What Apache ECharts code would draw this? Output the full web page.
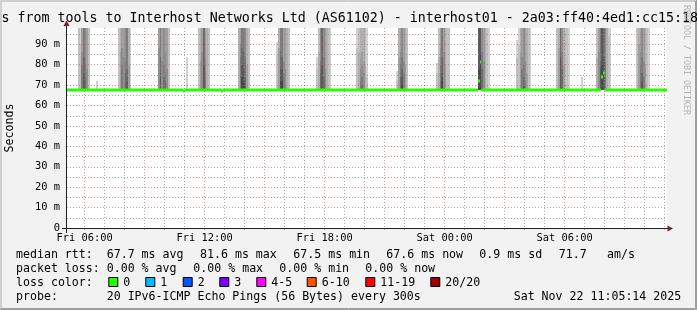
<!DOCTYPE html>
<html><head><meta charset="utf-8">
<script src="https://cdn.jsdelivr.net/npm/echarts@6/dist/echarts.min.js"></script>
<style>html,body{margin:0;padding:0;background:#f2f2f2}#c{width:697px;height:310px}</style>
</head><body><div id="c"></div>
<script>
// ---- data (x values: minutes since Fri 00:00) ----
const xStart = 307.2, xEnd = 2107.2;
const yMin = 0, yMax = 98;
const majorGridMinutes = [360,540,720,900,1080,1260,1440,1620,1800,1980];
const minorGridMinutes = [420,480,600,660,780,840,960,1020,1140,1200,1320,1380,1500,1560,1680,1740,1860,1920,2040,2100];
const xLabelMinutes = [360,720,1080,1440,1800];
const xLabelTexts = ['Fri 06:00','Fri 12:00','Fri 18:00','Sat 00:00','Sat 06:00'];
const yMajorTicks = [0,10,20,30,40,50,60,70,80,90];
const yMinorTicks = [5,15,25,35,45,55,65,75,85,95];
const yTickLabels = ['0','10 m','20 m','30 m','40 m','50 m','60 m','70 m','80 m','90 m'];

// median RTT (ms) per 5-minute step, as runs: [first step, last step, value]
const medianRuns = [
  [305,650,67.7],[655,655,67.2],[660,765,67.7],[770,770,67.2],[775,1535,67.7],
  [1540,1540,72.1],[1545,1545,81.5],[1550,1905,67.7],[1910,1910,73.8],[1915,1915,76.0],[1920,2105,67.7]
];
const smokeBase = 67.4;   // fastest ping (ms)
// smoke per 5-minute step: [step, pings above chart top, visible slower pings (ms)...]
const smokeColumns = [
  [340,2],[345,1,90],[350,4,86,80],[355,6,84,76],[360,5,80,72],[365,4,78],[370,2],
  [395,0,72],
  [460,2],[465,3,86],[470,4,88,80],[475,4,84],[480,5,82,76],[485,6,78,72],[490,3,80],[495,1],
  [580,4,88],[585,6,84,76],[590,4,82],[595,5,80,74],[600,4,86,76,72],[605,4,78],[610,2],
  [665,0,83.6],
  [700,2],[705,3,82],[710,4,86],[715,7,80],[720,4,84,76],[725,3],[730,2],
  [820,3],[825,4,90,84],[830,6,88,80,74],[835,6,86,78,72],[840,5,84,74],[845,3,80],[850,2],
  [935,0,91,85],[940,3,88],[945,6,86,78,72],[950,6,84,78,72],[955,4,82,76],[960,4,78],[965,3],[970,2],
  [1055,0,84,78],[1060,2,86],[1065,5,82,76],[1070,7,80],[1075,5,84,74],[1080,4,78],[1085,3],[1090,2],[1095,1],
  [1175,1,88],[1180,2,86],[1185,3,84,78,72],[1190,3,86,80,74,70],[1195,3,82,76],[1200,2,80],[1205,1,74],
  [1295,0,77,72],[1300,3,84],[1305,4,86,80,74],[1310,5,84,78,74,70],[1315,4,82,76],[1320,3,80],[1325,2],
  [1415,0,81,76],[1420,2,84],[1425,4,88,80],[1430,6,84,76,72],[1435,4,86],[1440,3,80],[1445,2],[1450,2],
  [1540,8,78],[1545,8,85],[1550,5,86,78],[1555,4,82],[1560,3],[1565,2],[1570,1],
  [1655,0,92,84],[1660,1,90],[1665,3,86],[1670,4,84,78],[1675,5,80,74,70],[1680,4,82,72],[1685,3,76],[1690,2],[1695,1],
  [1775,2],[1780,3,88],[1785,7,84],[1790,5,86,78],[1795,3,80],[1800,2],[1805,2],[1810,1],
  [1850,0,74],
  [1895,2,84],[1900,4,86],[1905,6,82,78],[1910,8,80],[1915,7,84],[1920,5,82],[1925,3],[1930,1,94],[1935,1],
  [2015,2],[2020,3,90],[2025,4,86,80],[2030,5,84,76,72],[2035,4,82,74],[2040,3,80],[2045,2],[2050,1]
];
const stepMinutes = 5;

const titleText = 's from tools to Interhost Networks Ltd (AS61102) - interhost01 - 2a03:ff40:4ed1:cc15:18';
const statsRtt = ['median rtt:','67.7 ms avg','81.6 ms max','67.5 ms min','67.6 ms now','0.9 ms sd','71.7','am/s'];
const statsLoss = ['packet loss:','0.00 % avg','0.00 % max','0.00 % min','0.00 % now'];
const lossLabels = ['0','1','2','3','4-5','6-10','11-19','20/20'];
const lossColors = ['#26ff00','#00b8ff','#0059ff','#7e00ff','#ff00ff','#ff5500','#ff0000','#a10000'];
const probeTexts = ['probe:','20 IPv6-ICMP Echo Pings (56 Bytes) every 300s','Sat Nov 22 11:05:14 2025'];

// ---- build smoke layers ----
const smokeLayers = [];
smokeColumns.forEach(col => {
  const t = col[0], beyond = col[1];
  const pings = [];
  for (let i = 0; i < beyond; i++) pings.push(yMax);
  col.slice(2).sort((a,b)=>b-a).forEach(v => pings.push(v));
  pings.forEach((top, i) => smokeLayers.push([t, top, i + 1]));
});
smokeLayers.sort((a,b) => a[2]-b[2]);
function grey(layer){ const g = Math.round(226 - 17*Math.min(layer,10)); return 'rgb('+g+','+g+','+g+')'; }

const MONO = 'DejaVu Sans Mono';
const chart = echarts.init(document.getElementById('c'), null, {renderer:'canvas'});

function txt(x, y, s, size, opts) {
  return Object.assign({type:'text', x:x, y:y, silent:true,
    style:{text:s, fontFamily:MONO, fontSize:size, fill:'#000', textVerticalAlign:'middle'}}, opts||{});
}
const graphics = [];
// frame
graphics.push({type:'rect', shape:{x:0,y:0,width:697,height:310}, style:{fill:'#f2f2f2'}, z:-10});
graphics.push({type:'polyline', shape:{points:[[0.5,309],[0.5,0.5],[696,0.5]]}, style:{stroke:'#cfcfcf', lineWidth:1, fill:null}, z:-9});
graphics.push({type:'polyline', shape:{points:[[1.5,308],[1.5,1.5],[695,1.5]]}, style:{stroke:'#cfcfcf', lineWidth:1, fill:null}, z:-9});
graphics.push({type:'polyline', shape:{points:[[0,309.5],[696.5,309.5],[696.5,0]]}, style:{stroke:'#9e9e9e', lineWidth:1, fill:null}, z:-9});
graphics.push({type:'polyline', shape:{points:[[1,308.5],[695.5,308.5],[695.5,1]]}, style:{stroke:'#9e9e9e', lineWidth:1, fill:null}, z:-9});
// title
graphics.push(txt(1.5, 19, titleText, 13.3));
// watermark
graphics.push({type:'text', x:686.5, y:60, rotation:-Math.PI/2, silent:true,
  style:{text:'RRDTOOL / TOBI OETIKER', fontFamily:MONO, fontSize:8.3, fill:'#b4b4b4', textAlign:'center', textVerticalAlign:'middle'}});
// y axis name
graphics.push({type:'text', x:10, y:128, rotation:Math.PI/2, silent:true,
  style:{text:'Seconds', fontFamily:MONO, fontSize:11.6, fill:'#000', textAlign:'center', textVerticalAlign:'middle'}});
// axis extensions and arrows
graphics.push({type:'line', shape:{x1:66.5,y1:22,x2:66.5,y2:233}, style:{stroke:'#1f1f1f', lineWidth:1}, z:20});
graphics.push({type:'line', shape:{x1:62,y1:228.5,x2:670,y2:228.5}, style:{stroke:'#1f1f1f', lineWidth:1}, z:20});
graphics.push({type:'polygon', shape:{points:[[66.5,20.5],[63.5,26],[69.5,26]]}, style:{fill:'#801f1f'}, z:21});
graphics.push({type:'polygon', shape:{points:[[673,228.5],[667.5,225.5],[667.5,231.5]]}, style:{fill:'#801f1f'}, z:21});
// stats lines
const rttX = [16,106.7,200,293.3,386.3,479.3,558.7,607];
statsRtt.forEach((s,i)=>graphics.push(txt(rttX[i], 254.5, s, 11.6)));
const lossX = [16,106.7,193.3,279.3,365.3];
statsLoss.forEach((s,i)=>graphics.push(txt(lossX[i], 268.5, s, 11.6)));
graphics.push(txt(16, 282.5, 'loss color:', 11.6));
const boxX = [108.3,145.3,182.7,219.3,256.3,306.7,365.3,430.3];
lossLabels.forEach((s,i)=>{
  graphics.push({type:'rect', shape:{x:boxX[i]+0.5,y:277.5,width:9,height:9}, style:{fill:lossColors[i], stroke:'#000', lineWidth:1}});
  graphics.push(txt(boxX[i]+15, 282.5, s, 11.6));
});
const probeX = [16,106.7,513.7];
probeTexts.forEach((s,i)=>graphics.push(txt(probeX[i], 296.5, s, 11.6)));

const axisFont = {fontFamily:MONO, fontSize:10.4, color:'#000'};
const option = {
  animation:false,
  backgroundColor:'#f2f2f2',
  grid:{left:67, top:28, width:600, height:200, show:true, backgroundColor:'#ffffff', borderWidth:0, containLabel:false},
  xAxis:[
    {type:'value', min:xStart, max:xEnd, position:'bottom', z:5,
     axisLine:{show:false},
     axisTick:{show:true, customValues:majorGridMinutes, length:2, lineStyle:{color:'rgba(222,79,79,0.6)'}},
     axisLabel:Object.assign({customValues:xLabelMinutes, margin:5,
       formatter:v => xLabelTexts[xLabelMinutes.indexOf(v)]}, axisFont),
     splitLine:{show:true, lineStyle:{color:'rgba(222,79,79,0.6)', width:1, type:[1,2]}}},
    {type:'value', min:xStart, max:xEnd, position:'bottom', z:4,
     axisLine:{show:false},
     axisTick:{show:true, customValues:minorGridMinutes, length:2, lineStyle:{color:'rgba(143,143,143,0.75)'}},
     axisLabel:{show:false},
     splitLine:{show:true, lineStyle:{color:'rgba(143,143,143,0.75)', width:1, type:[1,2]}}}
  ],
  yAxis:[
    {type:'value', min:yMin, max:yMax, position:'left', z:5,
     axisLine:{show:false},
     axisTick:{show:false, customValues:yMajorTicks},
     axisLabel:Object.assign({customValues:yMajorTicks, margin:7,
       formatter:v => yTickLabels[yMajorTicks.indexOf(v)]}, axisFont),
     splitLine:{show:true, lineStyle:{color:'rgba(222,79,79,0.6)', width:1, type:[1,2]}}},
    {type:'value', min:yMin, max:yMax, position:'left', z:4,
     axisLine:{show:false},
     axisTick:{show:false, customValues:yMinorTicks},
     axisLabel:{show:false},
     splitLine:{show:true, lineStyle:{color:'rgba(143,143,143,0.75)', width:1, type:[1,2]}}}
  ],
  series:[
    {type:'custom', name:'smoke', xAxisIndex:0, yAxisIndex:0, z:1, silent:true, clip:true,
     data:smokeLayers,
     renderItem:(params, api) => {
       const t = api.value(0), top = api.value(1), layer = api.value(2);
       const a = api.coord([t, smokeBase]);
       const b = api.coord([t + stepMinutes, Math.min(top, yMax)]);
       const x0 = Math.round(a[0]), x1 = Math.round(b[0]);
       const y0 = Math.round(a[1]), y1 = Math.round(b[1]);
       return {type:'rect', shape:{x:x0, y:y1, width:x1-x0, height:y0-y1}, style:{fill:grey(layer)}};
     }},
    {type:'custom', name:'median', xAxisIndex:0, yAxisIndex:0, z:10, silent:true, clip:true,
     data:medianRuns,
     renderItem:(params, api) => {
       const cs = params.coordSys;
       const s = api.value(0), e = api.value(1), v = api.value(2);
       const a = api.coord([s, v]), b = api.coord([e + stepMinutes, v]);
       const x0 = Math.max(Math.round(a[0]), cs.x), x1 = Math.min(Math.round(b[0]), cs.x + cs.width);
       return {type:'rect', shape:{x:x0, y:Math.round(a[1])-1.5, width:x1-x0, height:3}, style:{fill:'#26ff00'}};
     }}
  ],
  graphic:graphics
};
chart.setOption(option);
</script></body></html>
